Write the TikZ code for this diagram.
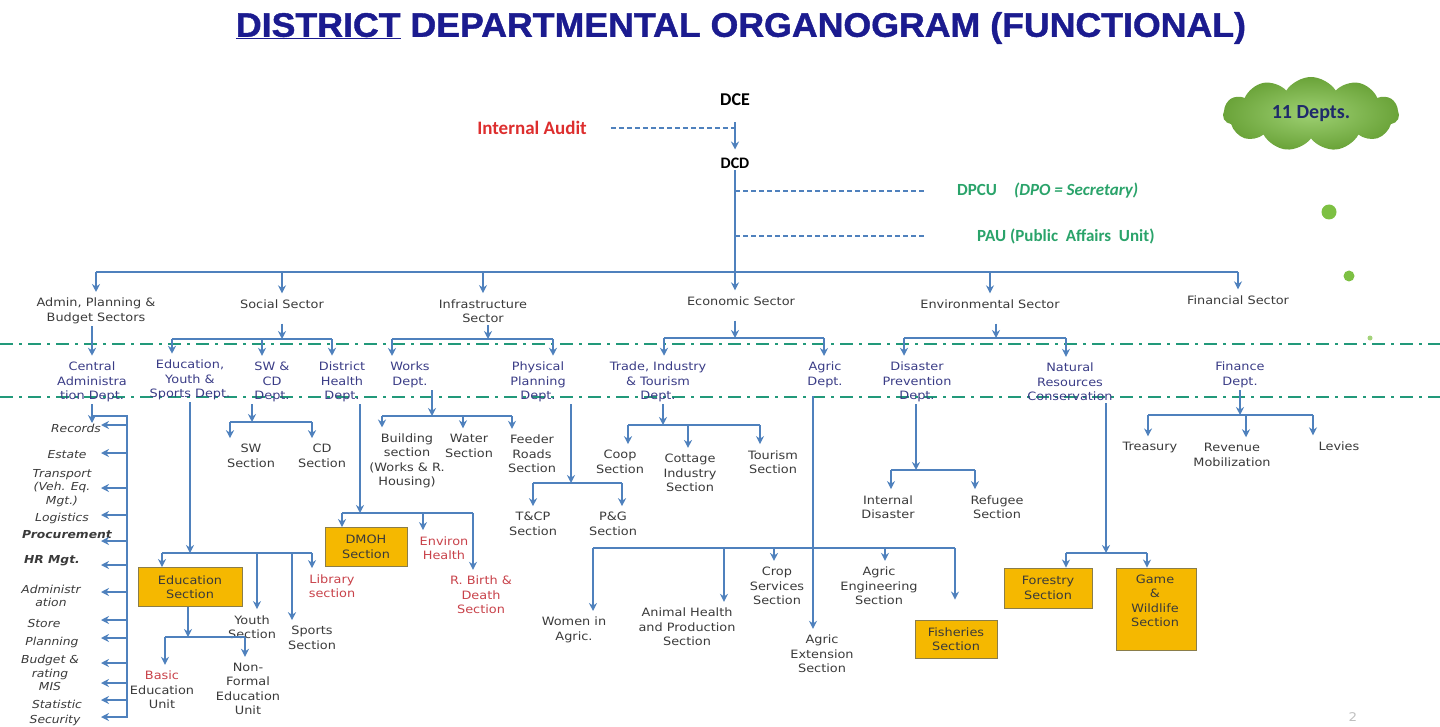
\documentclass[tikz,border=0pt]{standalone}
\usepackage{fontspec}
\setmainfont{DejaVu Sans}[FakeStretch=1.12]
\newfontfamily\calfont{Carlito}
\newfontfamily\ttlfont{Liberation Sans}[FakeStretch=1.05,BoldFeatures={FakeBold=1.2}]
\usetikzlibrary{arrows.meta,shapes.symbols}
\definecolor{lnblue}{HTML}{4F81BD}
\definecolor{sepc}{HTML}{22997A}
\definecolor{deptc}{HTML}{3A3C86}
\definecolor{txtc}{HTML}{3A3A3A}
\definecolor{redc}{HTML}{C8424A}
\definecolor{auditc}{HTML}{DD2E2E}
\definecolor{grnc}{HTML}{2AA36A}
\definecolor{boxf}{HTML}{F5B800}
\definecolor{boxd}{HTML}{8A7D4A}
\definecolor{ttlc}{HTML}{1B1B8F}
\definecolor{cloudc}{HTML}{7DC043}
\definecolor{navyc}{HTML}{1F2A6B}

\begin{document}
\begin{tikzpicture}[x=1pt,y=-1pt,
  every node/.style={font=\fontsize{11.5}{14.5}\selectfont,inner sep=2pt,align=center},
  sect/.style={text=txtc},
  dept/.style={text=deptc},
  unit/.style={text=txtc},
  redu/.style={text=redc},
  lst/.style={text=txtc,font=\fontsize{11}{13.5}\selectfont\itshape},
  topf/.style={font=\calfont\bfseries\fontsize{#1}{#1}\selectfont},
  ybox/.style={draw=boxd,fill=boxf,line width=0.9pt,text=txtc},
  ln/.style={draw=lnblue,line width=1.4pt},
  arr/.style={ln,-{Stealth[length=8pt,width=8pt]},shorten >=4pt},
  arrb/.style={ln,-{Stealth[length=8pt,width=8pt]}},
  dsh/.style={draw=lnblue,line width=1.2pt,dash pattern=on 5pt off 3pt},
  sepline/.style={draw=sepc,line width=1.8pt,dash pattern=on 13pt off 6pt on 3pt off 6pt}]
  \useasboundingbox (0,0) rectangle (1440,727);
  \draw[sepline] (0,344) -- (1440,344);
  \draw[sepline] (0,397) -- (1440,397);

  \node[text=ttlc,font=\ttlfont\bfseries\fontsize{34}{34}\selectfont] (title) at (741,28)
    {\underline{DISTRICT} DEPARTMENTAL ORGANOGRAM (FUNCTIONAL)};

  \node[topf=18] (dce) at (735,100) {DCE};
  \node[topf=19,text=auditc] (audit) at (532,128) {Internal Audit};
  \node[topf=16] (dcd) at (735,163) {DCD};
  \node[topf=17,text=grnc,anchor=west] (dpcu) at (955,191) {DPCU\quad\textit{(DPO = Secretary)}};
  \node[topf=17,text=grnc,anchor=west] (pau) at (975,236) {PAU (Public \ Affairs \ Unit)};
  \node[cloud,cloud puffs=11,cloud puff arc=115,aspect=2.3,minimum width=176pt,minimum height=74pt,
    inner color=cloudc!75!white,outer color=cloudc!85!black,text=navyc,topf=20] (cld) at (1311,114) {11 Depts.};
  \fill[cloudc] (1329,212) circle (7.5);
  \fill[cloudc] (1349,276) circle (5.5);
  \fill[cloudc!70!white] (1370,338) circle (2.5);

  \node[sect] (adm) at (96,311) {Admin, Planning \&\\Budget Sectors};
  \node[sect] (soc) at (282,304) {Social Sector};
  \node[sect] (inf) at (483,311) {Infrastructure\\Sector};
  \node[sect] (eco) at (741,301) {Economic Sector};
  \node[sect] (envs) at (990,304) {Environmental Sector};
  \node[sect] (fin) at (1238,300) {Financial Sector};

  \node[dept] (cad) at (92,382) {Central\\Administra\\tion Dept.};
  \node[dept] (edu) at (190,380) {Education,\\Youth \&\\Sports Dept.};
  \node[dept] (swd) at (272,382) {SW \&\\CD\\Dept.};
  \node[dept] (dhd) at (342,382) {District\\Health\\Dept.};
  \node[dept] (wrk) at (410,375) {Works\\Dept.};
  \node[dept] (phy) at (538,382) {Physical\\Planning\\Dept.};
  \node[dept] (trd) at (658,382) {Trade, Industry\\\& Tourism\\Dept.};
  \node[dept] (agd) at (825,375) {Agric\\Dept.};
  \node[dept] (dpd) at (917,382) {Disaster\\Prevention\\Dept.};
  \node[dept] (nrc) at (1070,382) {Natural\\Resources\\Conservation};
  \node[dept] (fnd) at (1240,375) {Finance\\Dept.};

  \foreach \n/\t/\x/\y in {rec/Records/76/428, est/Estate/67/455, trn/{Transport\\(Veh. Eq.\\Mgt.)}/62/488,
      lgs/Logistics/62/518, prc/{\bfseries Procurement}/67/535, hrm/{\bfseries HR Mgt.}/52/561,
      adn/{Administr\\ation}/51/596, sto/Store/44/623, pln/Planning/52/642,
      bud/{Budget \&\\rating\\MIS}/50/673, sta/Statistic/57/704, scy/Security/55/720}
    \node[lst] (\n) at (\x,\y) {\t};

  \node[unit] (sws) at (251,456) {SW\\Section};
  \node[unit] (cds) at (322,456) {CD\\Section};
  \node[ybox,minimum width=104pt,minimum height=39pt] (edbox) at (190,587) {Education\\Section};
  \node[unit] (yth) at (252,627) {Youth\\Section};
  \node[unit] (spt) at (312,638) {Sports\\Section};
  \node[redu] (lib) at (332,586) {Library\\section};
  \node[unit] (bas) at (162,690) {\textcolor{redc}{Basic}\\Education\\Unit};
  \node[unit] (nfe) at (248,689) {Non-\\Formal\\Education\\Unit};
  \node[ybox,minimum width=82pt,minimum height=39pt] (dmoh) at (366,547) {DMOH\\Section};
  \node[redu] (ehl) at (444,548) {Environ\\Health};
  \node[redu] (rbd) at (481,595) {R. Birth \&\\Death\\Section};
  \node[unit] (bld) at (407,461) {Building\\section\\(Works \& R.\\Housing)};
  \node[unit] (wat) at (469,446) {Water\\Section};
  \node[unit] (fdr) at (532,454) {Feeder\\Roads\\Section};
  \node[unit] (tcp) at (533,524) {T\&CP\\Section};
  \node[unit] (pg) at (613,524) {P\&G\\Section};
  \node[unit] (coop) at (620,462) {Coop\\Section};
  \node[unit] (cot) at (690,473) {Cottage\\Industry\\Section};
  \node[unit] (tour) at (773,462) {Tourism\\Section};
  \node[unit] (wom) at (574,630) {Women in\\Agric.};
  \node[unit] (anh) at (687,627) {Animal Health\\and Production\\Section};
  \node[unit] (crop) at (777,586) {Crop\\Services\\Section};
  \node[unit] (aeng) at (879,586) {Agric\\Engineering\\Section};
  \node[ybox,minimum width=82pt,minimum height=38pt] (fish) at (956,639) {Fisheries\\Section};
  \node[unit] (aext) at (822,654) {Agric\\Extension\\Section};
  \node[unit] (idis) at (888,507) {Internal\\Disaster};
  \node[unit] (ref) at (997,507) {Refugee\\Section};
  \node[ybox,minimum width=88pt,minimum height=40pt] (frst) at (1048,588) {Forestry\\Section};
  \node[ybox,minimum width=80pt,minimum height=82pt] (game) at (1156,609) {};
  \node[unit] (gtxt) at (1155,601) {Game\\\&\\Wildlife\\Section};
  \node[unit] (trs) at (1150,448) {Treasury};
  \node[unit] (rev) at (1232,455) {Revenue\\Mobilization};
  \node[unit] (lev) at (1339,446) {Levies};
  \node[text=gray!50,font=\fontsize{12}{12}\selectfont] (pnum) at (1353,717) {2};

  \draw[arrb,shorten <=14pt,shorten >=6pt] (dce) -- (dcd);
  \draw[dsh,shorten <=22pt] (audit.east) -- (audit.east -| dce);
  \draw[arr] (dcd) -- (dcd |- eco.north);
  \draw[dsh,shorten >=30pt] (dpcu.west -| dcd) -- (dpcu.west);
  \draw[dsh,shorten >=50pt] (pau.west -| dcd) -- (pau.west);

  \coordinate (sbus) at (735,272);
  \draw[ln] (adm |- sbus) -- (fin |- sbus);
  \foreach \s in {adm,soc,inf,envs,fin}
    \draw[arr] (\s |- sbus) -- (\s.north);
  \draw[arr] (cad |- adm.south) -- (cad.north);

  \foreach \n/\x/\y in {edu/172/339,swd/262/339,dhd/332/339,wrk/392/339,phy/553/339,
      trd/664/338,agd/824/338,dpd/904/338,nrc/1066/338,
      sws/230/422,cds/312/422,edbox/162/553,yth/257/553,spt/292/553,lib/312/553,
      bas/165/637,nfe/245/637,dmoh/342/513,ehl/423/513,rbd/473/513,
      bld/382/416,wat/463/416,fdr/512/416,tcp/533/483,pg/622/483,
      coop/628/425,cot/688/425,tour/760/425,wom/593/548,anh/724/548,crop/774/548,
      aeng/885/548,fish/955/548,aext/813/548,idis/891/470,ref/975/470,
      frst/1066/553,game/1147/553,trs/1148/415,rev/1246/415,lev/1313/415}
    \coordinate (d-\n) at (\x,\y);
  \foreach \n/\x/\y in {soc/282/339,inf/488/339,eco/735/338,envs/996/338,cad/92/423,
      swd/252/422,edu/190/553,edbox/188/637,dhd/360/513,wrk/432/416,phy/571/483,
      trd/663/425,dpd/916/470,nrc/1106/553,fnd/1240/415}
    \coordinate (p-\n) at (\x,\y);

  \foreach \a/\b in {edu/dhd,wrk/phy,trd/agd,dpd/nrc,sws/cds,edbox/lib,bas/nfe,dmoh/rbd,
      bld/fdr,tcp/pg,coop/tour,wom/fish,idis/ref,frst/game,trs/lev}
    \draw[ln] (d-\a) -- (d-\b);
  \foreach \n in {edu,swd,dhd,wrk,phy,trd,agd,dpd,nrc,sws,cds,yth,spt,lib,bas,nfe,ehl,rbd,
      bld,wat,fdr,tcp,pg,coop,cot,tour,wom,anh,crop,aeng,idis,ref,trs,rev,lev}
    \draw[arr] (d-\n) -- (d-\n |- \n.north);
  \foreach \n in {edbox,dmoh,frst,game}
    \draw[arrb] (d-\n) -- (d-\n |- \n.north);
  \draw[arrb,shorten >=20pt] (d-fish) -- (d-fish |- fish.north);
  \draw[arr,shorten <=6pt] (agd.south -| d-aext) -- (d-aext |- aext.north);

  \foreach \n in {cad,swd,edu,edbox,dhd,wrk,phy,trd,dpd,nrc,fnd,inf}
    \draw[arrb] (\n.south -| p-\n) -- (p-\n);
  \foreach \n in {soc,eco,envs}
    \draw[arrb,shorten <=13pt] (\n.south -| p-\n) -- (p-\n);

  \coordinate (lt) at (127,416);
  \coordinate (lb) at (127,718);
  \draw[ln] (p-cad |- lt) -- (lt) -- (lb);
  \foreach \y in {425,453,488,515,541,565,592,620,638,663,683,700,717}
    \draw[arrb] (127,\y) -- (101,\y);
\end{tikzpicture}
\end{document}
